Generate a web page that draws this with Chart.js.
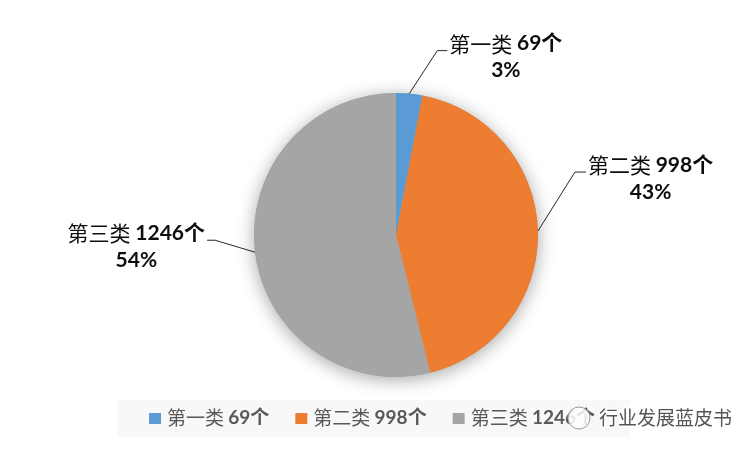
<!DOCTYPE html>
<html>
<head>
<meta charset="utf-8">
<script src="https://cdn.jsdelivr.net/npm/chart.js@4.4.0/dist/chart.umd.min.js"></script>
<style>
  html, body { margin: 0; background: #fff; }
</style>
</head>
<body>
<canvas id="pie" width="750" height="450"></canvas>
<script>
// 数据
const categories = ['第一类', '第二类', '第三类'];
const counts = [69, 998, 1246];
const sliceColors = ['#5B9BD5', '#ED7D31', '#A5A5A5'];

// 引导线: 拐点相对扇区中点的偏移 [dx, dy], 水平段长度
const leaderBend = [[28, -43], [37, -59], [-40, -12]];
const leaderTail = [10, 11, -8];

const CJK_FONT = '"Noto Sans CJK SC", sans-serif';
const NUM_FONT = 'Lato, "Noto Sans CJK SC", sans-serif';

const total = counts.reduce((a, b) => a + b, 0);
const percents = counts.map(v => Math.round(v / total * 100) + '%');

function measureParts(ctx, parts) {
    let w = 0;
    parts.forEach(p => { ctx.font = p.font; w += ctx.measureText(p.text).width; });
    return w;
}

function drawParts(ctx, parts, x, y, align, color) {
    const width = measureParts(ctx, parts);
    let cx = align === 'center' ? x - width / 2 : align === 'right' ? x - width : x;
    ctx.fillStyle = color;
    ctx.textBaseline = 'middle';
    ctx.textAlign = 'left';
    parts.forEach(p => {
        ctx.font = p.font;
        ctx.fillText(p.text, cx, y);
        cx += ctx.measureText(p.text).width;
    });
    return width;
}

const pieShadow = {
    id: 'pieShadow',
    beforeDatasetsDraw(chart) {
        const arc = chart.getDatasetMeta(0).data[0];
        const ctx = chart.ctx;
        ctx.save();
        ctx.shadowColor = 'rgba(0,0,0,0.35)';
        ctx.shadowBlur = 18;
        ctx.shadowOffsetY = 3;
        ctx.beginPath();
        ctx.arc(arc.x, arc.y, arc.outerRadius, 0, Math.PI * 2);
        ctx.fillStyle = '#A5A5A5';
        ctx.fill();
        ctx.restore();
    }
};

const sliceLabels = {
    id: 'sliceLabels',
    afterDatasetsDraw(chart) {
        const ctx = chart.ctx;
        const meta = chart.getDatasetMeta(0);
        meta.data.forEach((arc, i) => {
            const mid = (arc.startAngle + arc.endAngle) / 2;
            const ax = arc.x + Math.cos(mid) * arc.outerRadius;
            const ay = arc.y + Math.sin(mid) * arc.outerRadius;
            const bx = ax + leaderBend[i][0];
            const by = ay + leaderBend[i][1];
            const ex = bx + leaderTail[i];

            ctx.save();
            ctx.strokeStyle = '#262626';
            ctx.lineWidth = 1;
            ctx.beginPath();
            ctx.moveTo(ax, ay);
            ctx.lineTo(bx, by);
            ctx.lineTo(ex, by);
            ctx.stroke();

            const line1 = [
                { text: categories[i] + ' ', font: '21px ' + CJK_FONT },
                { text: counts[i] + '个', font: 'bold 21px ' + NUM_FONT }
            ];
            const w = measureParts(ctx, line1);
            const side = Math.sign(leaderTail[i]);
            const cx = ex + side * (2 + w / 2);
            drawParts(ctx, line1, cx, by - 7, 'center', '#0d0d0d');
            drawParts(ctx, [{ text: percents[i], font: 'bold 21px ' + NUM_FONT }], cx, by + 20, 'center', '#0d0d0d');
            ctx.restore();
        });
    }
};

const bottomLegend = {
    id: 'bottomLegend',
    afterDraw(chart) {
        const ctx = chart.ctx;
        ctx.save();
        ctx.fillStyle = '#f8f8f8';
        ctx.fillRect(117, 400, 513, 37);

        const items = categories.map((c, i) => [
            { text: c + ' ', font: '19px ' + CJK_FONT },
            { text: counts[i] + '个', font: 'bold 19px ' + NUM_FONT }
        ]);
        const box = 12, gapText = 6, gapItem = 26;
        const widths = items.map(p => box + gapText + measureParts(ctx, p));
        const totalW = widths.reduce((a, b) => a + b, 0) + gapItem * (items.length - 1);
        let x = chart.width / 2 - totalW / 2 - 3;
        const y = 418;
        items.forEach((parts, i) => {
            ctx.fillStyle = sliceColors[i];
            ctx.fillRect(x, y - 5, box, 11);
            drawParts(ctx, parts, x + box + gapText, y, 'left', '#595959');
            x += widths[i] + gapItem;
        });

        // 水印
        ctx.beginPath();
        ctx.arc(579, 418, 11, 0, Math.PI * 2);
        ctx.fillStyle = 'rgba(255,255,255,0.85)';
        ctx.fill();
        ctx.strokeStyle = '#9a9a9a';
        ctx.lineWidth = 1;
        ctx.stroke();
        ctx.font = '19px ' + CJK_FONT;
        ctx.textAlign = 'left';
        ctx.textBaseline = 'middle';
        ctx.lineWidth = 3;
        ctx.strokeStyle = 'rgba(255,255,255,0.9)';
        ctx.strokeText('行业发展蓝皮书', 599, 418);
        ctx.fillStyle = '#555555';
        ctx.fillText('行业发展蓝皮书', 599, 418);
        ctx.restore();
    }
};

new Chart(document.getElementById('pie'), {
    type: 'pie',
    data: {
        labels: categories,
        datasets: [{
            data: counts,
            backgroundColor: sliceColors,
            borderWidth: 0
        }]
    },
    options: {
        responsive: false,
        animation: false,
        devicePixelRatio: 1,
        layout: { padding: { top: 93, bottom: 73, left: 42, right: 0 } },
        plugins: {
            legend: { display: false },
            tooltip: { enabled: false }
        }
    },
    plugins: [pieShadow, sliceLabels, bottomLegend]
});
</script>
</body>
</html>
